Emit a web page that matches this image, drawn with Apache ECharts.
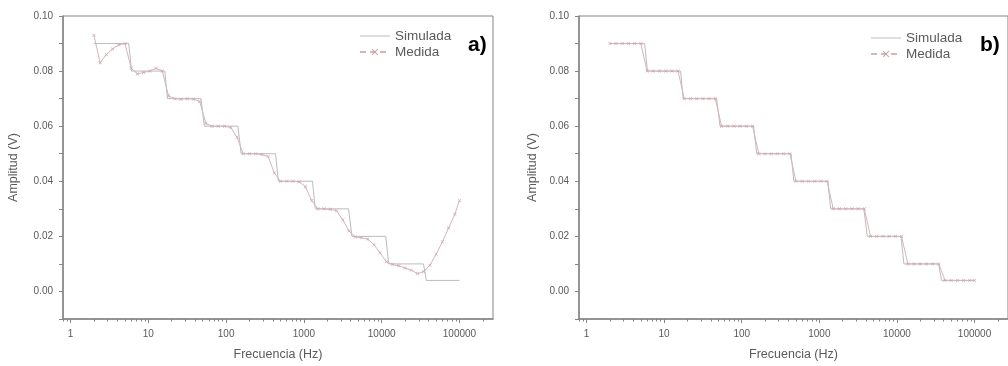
<!DOCTYPE html>
<html>
<head>
<meta charset="utf-8">
<script src="https://cdn.jsdelivr.net/npm/echarts@6/dist/echarts.min.js"></script>
<style>
html,body{margin:0;padding:0;background:#fff;}
#c{width:1008px;height:366px;}
</style>
</head>
<body>
<div id="c"></div>
<script>
// ---- data ----
const simFreq = [2, 5.6, 6.1, 16.3, 17.6, 47.5, 52.5, 142, 156, 432, 470, 1290, 1400, 3750, 4150, 11300, 12300, 34500, 37500, 100000];
const simVal  = [0.09, 0.09, 0.08, 0.08, 0.07, 0.07, 0.06, 0.06, 0.05, 0.05, 0.04, 0.04, 0.03, 0.03, 0.02, 0.02, 0.01, 0.01, 0.004, 0.004];

const medFreq = [2.0, 2.40, 2.88, 3.47, 4.17, 5.01, 6.03, 7.24, 8.71, 10.5,
                 12.6, 15.1, 18.2, 21.9, 26.3, 31.6, 38.0, 45.7, 55.0, 66.1,
                 79.4, 95.5, 115, 138, 166, 200, 240, 288, 347, 417,
                 501, 603, 724, 871, 1047, 1259, 1514, 1820, 2188, 2630,
                 3162, 3802, 4571, 5495, 6607, 7943, 9550, 11482, 13804, 16596,
                 19953, 23988, 28840, 34674, 41687, 50119, 60256, 72444, 87096, 100000];
const medidaA = [0.093, 0.083, 0.086, 0.088, 0.0895, 0.090, 0.081, 0.079, 0.0795, 0.080,
                 0.081, 0.080, 0.071, 0.070, 0.0698, 0.070, 0.0698, 0.069, 0.061, 0.060,
                 0.060, 0.060, 0.0595, 0.056, 0.050, 0.050, 0.050, 0.0497, 0.049, 0.043,
                 0.040, 0.040, 0.040, 0.0398, 0.038, 0.033, 0.030, 0.030, 0.0298, 0.0293,
                 0.026, 0.022, 0.0198, 0.0195, 0.019, 0.017, 0.014, 0.0108, 0.0098, 0.0093,
                 0.0085, 0.0077, 0.0065, 0.0072, 0.0095, 0.0135, 0.018, 0.023, 0.028, 0.033];
const medidaB = [0.09, 0.09, 0.09, 0.09, 0.09, 0.09, 0.08, 0.08, 0.08, 0.08,
                 0.08, 0.08, 0.07, 0.07, 0.07, 0.07, 0.07, 0.07, 0.06, 0.06,
                 0.06, 0.06, 0.06, 0.06, 0.05, 0.05, 0.05, 0.05, 0.05, 0.05,
                 0.04, 0.04, 0.04, 0.04, 0.04, 0.04, 0.03, 0.03, 0.03, 0.03,
                 0.03, 0.03, 0.02, 0.02, 0.02, 0.02, 0.02, 0.02, 0.01, 0.01,
                 0.01, 0.01, 0.01, 0.01, 0.004, 0.004, 0.004, 0.004, 0.004, 0.004];

const xMajorTicks = [1, 10, 100, 1000, 10000, 100000];
const xMinorTicks = [0.8, 0.9, 2, 3, 4, 5, 6, 7, 8, 9, 20, 30, 40, 50, 60, 70, 80, 90,
                     200, 300, 400, 500, 600, 700, 800, 900, 2000, 3000, 4000, 5000, 6000, 7000, 8000, 9000,
                     20000, 30000, 40000, 50000, 60000, 70000, 80000, 90000, 200000];
const seriesNames = ['Simulada', 'Medida'];
const panelLabels = ['a)', 'b)'];

// ---- styling ----
const FONT = 'Liberation Sans, Arial, sans-serif';
const AXIS_C = '#858585';
const TXT_C = '#5a5a5a';
const SIM_C = '#bcbcbc';
const MED_C = '#d6b6bb';
const X_SYM = 'path://M0,1L1,0L5,4L9,0L10,1L6,5L10,9L9,10L5,6L1,10L0,9L4,5Z';
const LINE_ICON = 'path://M0,0L30,0L30,1L0,1Z';

const zip = (a, b) => a.map((v, i) => [v, b[i]]);

const grids = [
  {left: 63, top: 16, width: 430, height: 303},
  {left: 579, top: 16, width: 432, height: 306}
];
const xNameGap = [29, 29];
const yNameGap = [43, 40];

const xAxes = [], yAxes = [], series = [];
grids.forEach((g, gi) => {
  g.show = true; g.borderColor = AXIS_C; g.borderWidth = 1; g.containLabel = false;
  xAxes.push({
    type: 'log', logBase: 10, gridIndex: gi, min: 0.8, max: 270000, position: 'bottom',
    name: 'Frecuencia (Hz)', nameLocation: 'middle', nameGap: xNameGap[gi],
    nameTextStyle: {fontFamily: FONT, fontSize: 12.5, color: TXT_C},
    axisLine: {show: true, onZero: false, lineStyle: {color: AXIS_C, width: 1.5}},
    axisTick: {show: true, inside: false, length: 4, customValues: xMajorTicks, lineStyle: {color: AXIS_C}},
    axisLabel: {show: true, customValues: xMajorTicks, margin: 10, fontFamily: FONT, fontSize: 10, color: TXT_C,
                formatter: v => String(Math.round(v))},
    splitLine: {show: false}
  });
  xAxes.push({
    type: 'log', logBase: 10, gridIndex: gi, min: 0.8, max: 270000, position: 'bottom',
    axisLine: {show: false, onZero: false},
    axisTick: {show: true, inside: false, length: 2.5, customValues: xMinorTicks, lineStyle: {color: AXIS_C}},
    axisLabel: {show: false},
    splitLine: {show: false}
  });
  yAxes.push({
    type: 'value', gridIndex: gi, min: -0.01, max: 0.10, interval: 0.01,
    name: 'Amplitud (V)', nameLocation: 'middle', nameGap: yNameGap[gi], nameRotate: 90,
    nameTextStyle: {fontFamily: FONT, fontSize: 12.5, color: TXT_C},
    axisLine: {show: true, onZero: false, lineStyle: {color: AXIS_C, width: 1.5}},
    axisTick: {show: true, inside: false, length: 4, lineStyle: {color: AXIS_C}},
    axisLabel: {margin: 10, fontFamily: FONT, fontSize: 10, color: TXT_C,
                formatter: v => { const h = Math.round(v * 100); return (h % 2 === 0 && h >= 0) ? v.toFixed(2) : ''; }},
    splitLine: {show: false}
  });
  series.push({
    name: seriesNames[0], type: 'line', xAxisIndex: gi * 2, yAxisIndex: gi,
    data: zip(simFreq, simVal), showSymbol: false, symbol: 'none',
    lineStyle: {color: SIM_C, width: 1}, itemStyle: {color: SIM_C}, animation: false
  });
  series.push({
    name: seriesNames[1], type: 'line', xAxisIndex: gi * 2, yAxisIndex: gi,
    data: zip(medFreq, gi === 0 ? medidaA : medidaB),
    symbol: X_SYM, symbolSize: 3.5, showSymbol: true,
    lineStyle: {color: MED_C, width: 1}, itemStyle: {color: '#c99fa6'}, animation: false
  });
});

const legendPos = [{left: 354, top: 24}, {left: 865, top: 26}];
const legends = legendPos.map(p => ({
  left: p.left, top: p.top, orient: 'vertical', itemWidth: 30, itemHeight: 8, itemGap: 2,
  data: [
    {name: seriesNames[0], icon: LINE_ICON},
    {name: seriesNames[1], lineStyle: {type: [6, 4]}}
  ],
  selectedMode: false,
  textStyle: {fontFamily: FONT, fontSize: 13.5, color: TXT_C}
}));

const chart = echarts.init(document.getElementById('c'), null, {renderer: 'canvas'});
chart.setOption({
  animation: false,
  backgroundColor: '#ffffff',
  grid: grids,
  xAxis: xAxes,
  yAxis: yAxes,
  legend: legends,
  series: series,
  graphic: [
    {type: 'text', left: 468, top: 35, style: {text: panelLabels[0], font: 'bold 21px ' + FONT, fill: '#000'}},
    {type: 'text', left: 980, top: 35, style: {text: panelLabels[1], font: 'bold 21px ' + FONT, fill: '#000'}}
  ]
});
</script>
</body>
</html>
